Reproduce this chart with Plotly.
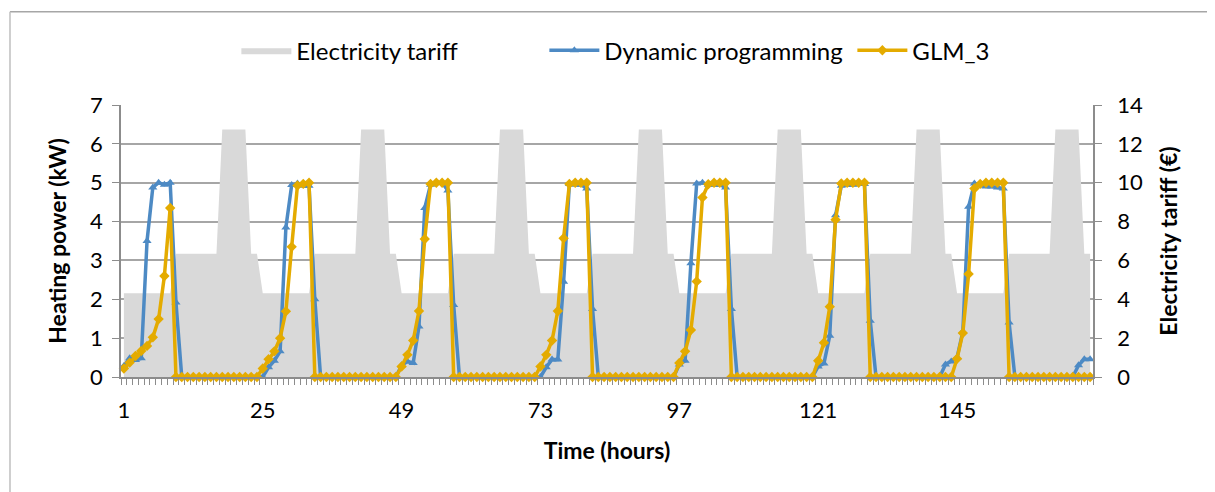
import plotly.graph_objects as go

hours = list(range(1, 169))

# Electricity tariff (€), one value per hour (right axis)
tariff = [
    4.31, 4.31, 4.31, 4.31, 4.31, 4.31, 4.31, 4.31, 4.31, 6.35, 6.35, 6.35, 6.35, 6.35, 6.35, 6.35, 6.35, 12.74, 12.74, 12.74, 12.74, 12.74, 6.35, 6.35,
    4.31, 4.31, 4.31, 4.31, 4.31, 4.31, 4.31, 4.31, 4.31, 6.35, 6.35, 6.35, 6.35, 6.35, 6.35, 6.35, 6.35, 12.74, 12.74, 12.74, 12.74, 12.74, 6.35, 6.35,
    4.31, 4.31, 4.31, 4.31, 4.31, 4.31, 4.31, 4.31, 4.31, 6.35, 6.35, 6.35, 6.35, 6.35, 6.35, 6.35, 6.35, 12.74, 12.74, 12.74, 12.74, 12.74, 6.35, 6.35,
    4.31, 4.31, 4.31, 4.31, 4.31, 4.31, 4.31, 4.31, 4.31, 6.35, 6.35, 6.35, 6.35, 6.35, 6.35, 6.35, 6.35, 12.74, 12.74, 12.74, 12.74, 12.74, 6.35, 6.35,
    4.31, 4.31, 4.31, 4.31, 4.31, 4.31, 4.31, 4.31, 4.31, 6.35, 6.35, 6.35, 6.35, 6.35, 6.35, 6.35, 6.35, 12.74, 12.74, 12.74, 12.74, 12.74, 6.35, 6.35,
    4.31, 4.31, 4.31, 4.31, 4.31, 4.31, 4.31, 4.31, 4.31, 6.35, 6.35, 6.35, 6.35, 6.35, 6.35, 6.35, 6.35, 12.74, 12.74, 12.74, 12.74, 12.74, 6.35, 6.35,
    4.31, 4.31, 4.31, 4.31, 4.31, 4.31, 4.31, 4.31, 4.31, 6.35, 6.35, 6.35, 6.35, 6.35, 6.35, 6.35, 6.35, 12.74, 12.74, 12.74, 12.74, 12.74, 6.35, 6.35,
]

# Dynamic programming heating power (kW)
dyn_prog = [
    0.28, 0.48, 0.44, 0.48, 3.50, 4.88, 5.00, 4.95, 5.00, 1.92, 0, 0, 0, 0, 0, 0, 0, 0, 0, 0, 0, 0, 0, 0,
    0, 0.25, 0.42, 0.66, 3.85, 4.94, 4.98, 4.92, 4.92, 2.00, 0, 0, 0, 0, 0, 0, 0, 0, 0, 0, 0, 0, 0, 0,
    0.30, 0.40, 0.36, 1.30, 4.35, 4.95, 5.00, 5.00, 4.80, 1.85, 0, 0, 0, 0, 0, 0, 0, 0, 0, 0, 0, 0, 0, 0,
    0, 0.25, 0.45, 0.45, 2.45, 4.97, 4.95, 4.95, 4.85, 1.75, 0, 0, 0, 0, 0, 0, 0, 0, 0, 0, 0, 0, 0, 0,
    0.32, 0.42, 2.93, 4.98, 5.00, 4.95, 4.95, 4.95, 4.88, 1.75, 0, 0, 0, 0, 0, 0, 0, 0, 0, 0, 0, 0, 0, 0,
    0.27, 0.35, 1.06, 4.16, 4.92, 4.95, 4.95, 4.97, 4.97, 1.45, 0, 0, 0, 0, 0, 0, 0, 0, 0, 0, 0, 0, 0.32, 0.40,
    0.50, 1.17, 4.38, 4.98, 4.93, 4.90, 4.90, 4.88, 4.85, 1.40, 0, 0, 0, 0, 0, 0, 0, 0, 0, 0, 0, 0.30, 0.46, 0.46,
]

# GLM_3 heating power (kW)
glm3 = [
    0.22, 0.37, 0.54, 0.67, 0.80, 1.02, 1.49, 2.60, 4.35, 0, 0, 0, 0, 0, 0, 0, 0, 0, 0, 0, 0, 0, 0, 0,
    0.22, 0.46, 0.66, 1.00, 1.69, 3.35, 4.93, 4.97, 5.00, 0, 0, 0, 0, 0, 0, 0, 0, 0, 0, 0, 0, 0, 0, 0,
    0.27, 0.57, 0.94, 1.70, 3.55, 4.97, 5.00, 5.00, 5.00, 0, 0, 0, 0, 0, 0, 0, 0, 0, 0, 0, 0, 0, 0, 0,
    0.27, 0.57, 0.94, 1.70, 3.57, 4.97, 5.00, 5.00, 5.00, 0, 0, 0, 0, 0, 0, 0, 0, 0, 0, 0, 0, 0, 0, 0,
    0.36, 0.66, 1.21, 2.46, 4.62, 4.96, 5.00, 5.00, 5.00, 0, 0, 0, 0, 0, 0, 0, 0, 0, 0, 0, 0, 0, 0, 0,
    0.42, 0.88, 1.81, 4.05, 4.98, 5.00, 5.00, 5.00, 5.00, 0, 0, 0, 0, 0, 0, 0, 0, 0, 0, 0, 0, 0, 0, 0,
    0.47, 1.13, 2.65, 4.85, 4.97, 5.00, 5.00, 5.00, 5.00, 0, 0, 0, 0, 0, 0, 0, 0, 0, 0, 0, 0, 0, 0, 0,
]

tick_hours = [1, 25, 49, 73, 97, 121, 145]

FONT = "Lato"
AXIS_GRAY = "#8C8C8C"
BLUE = "#4D8AC4"
YELLOW = "#E4AB00"

fig = go.Figure()
fig.add_trace(go.Scatter(
    x=hours, y=tariff, name="Electricity tariff", mode="lines",
    line=dict(width=0, color="#D9D9D9"), fill="tozeroy", fillcolor="#D9D9D9",
    yaxis="y", hoverinfo="skip",
))
fig.add_trace(go.Scatter(
    x=hours, y=dyn_prog, name="Dynamic programming", mode="lines+markers",
    line=dict(width=3.5, color=BLUE),
    marker=dict(symbol="triangle-up", size=8, color=BLUE),
    yaxis="y2", cliponaxis=False,
))
fig.add_trace(go.Scatter(
    x=hours, y=glm3, name="GLM_3", mode="lines+markers",
    line=dict(width=3.5, color=YELLOW),
    marker=dict(symbol="diamond", size=8, color=YELLOW),
    yaxis="y2", cliponaxis=False,
))

fig.update_layout(
    width=1215, height=492,
    margin=dict(l=113, r=130, t=97, b=123, autoexpand=False),
    paper_bgcolor="white", plot_bgcolor="white",
    font=dict(family=FONT, size=22, color="black"),
    showlegend=True,
    legend=dict(orientation="h", x=0.594, xanchor="center", y=1.2, yanchor="middle",
                font=dict(family=FONT, size=24), itemwidth=50, traceorder="normal",
                entrywidth=243, entrywidthmode="pixels",
                bgcolor="rgba(0,0,0,0)"),
    xaxis=dict(
        range=[0.5, 168.5], tickmode="array", tickvals=tick_hours,
        ticktext=[str(v) for v in tick_hours],
        ticks="", showgrid=False, zeroline=False,
        showline=True, linecolor=AXIS_GRAY, linewidth=1.5,
        ticklabelstandoff=13,
        minor=dict(ticks="outside", tick0=0.5, dtick=1, ticklen=6, tickcolor=AXIS_GRAY, tickwidth=1, showgrid=False),
        title=dict(text="<b>Time (hours)</b>", standoff=21, font=dict(size=23)),
        anchor="y",
    ),
    yaxis=dict(
        side="right", range=[0, 14], dtick=2, tick0=0,
        showgrid=True, gridcolor="#A6A6A6", gridwidth=1.5,
        zeroline=False, showline=True, linecolor=AXIS_GRAY, linewidth=1.5,
        ticks="outside", ticklen=7, tickcolor=AXIS_GRAY, ticklabelstandoff=11,
        title=dict(text="<b>Electricity tariff (€)</b>", standoff=19, font=dict(size=23)),
    ),
    yaxis2=dict(
        side="left", overlaying="y", range=[0, 7], dtick=1, tick0=0,
        showgrid=False, zeroline=False, showline=True, linecolor=AXIS_GRAY, linewidth=1.5,
        ticks="outside", ticklen=7, tickcolor=AXIS_GRAY, ticklabelstandoff=5,
        title=dict(text="<b>Heating power (kW)</b>", standoff=17, font=dict(size=23)),
    ),
    shapes=[
        dict(type="line", xref="paper", yref="paper", x0=-0.1142, x1=1.2, y0=1.3427, y1=1.3427,
             line=dict(color="#A6A6A6", width=1.5)),
        dict(type="line", xref="paper", yref="paper", x0=-0.1142, x1=-0.1142, y0=-0.5, y1=1.3427,
             line=dict(color="#BFBFBF", width=1.5)),
    ],
)

fig.write_html("out.html")
